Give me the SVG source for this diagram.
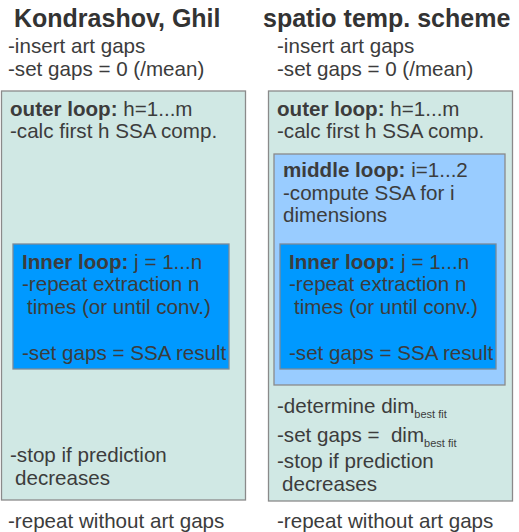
<svg xmlns="http://www.w3.org/2000/svg" width="519" height="532" viewBox="0 0 519 532">
<style>
text{font-family:"Liberation Sans",Arial,sans-serif;font-size:20.6px;fill:#3c3c3c}
.t{font-size:25px;font-weight:bold;fill:#333}
.b{font-weight:bold}
.sub{font-size:11px}
.outer{fill:#d0e8e4;stroke:#8a8a8a;stroke-width:1.3}
.mid{fill:#99ccff;stroke:#8a8a8a;stroke-width:1.3}
.inner{fill:#0099ff;stroke:#7a8a99;stroke-width:1.3}
</style>
<rect width="519" height="532" fill="#ffffff"/>
<g id="left">
<text class="t" x="14" y="27">Kondrashov, Ghil</text>
<text x="8" y="53">-insert art gaps</text>
<text x="8" y="76">-set gaps = 0 (/mean)</text>
<g id="left-outer">
<rect class="outer" x="1.5" y="91" width="244" height="409"/>
<text x="10" y="116"><tspan class="b">outer loop:</tspan> h=1...m</text>
<text x="10" y="138">-calc first h SSA comp.</text>
<text x="10" y="462">-stop if prediction</text>
<text x="15" y="485">decreases</text>
</g>
<g id="left-inner">
<rect class="inner" x="13" y="244" width="216" height="125"/>
<text x="22" y="269"><tspan class="b">Inner loop:</tspan> j = 1...n</text>
<text x="22" y="291">-repeat extraction n</text>
<text x="27" y="314">times (or until conv.)</text>
<text x="22" y="360">-set gaps = SSA result</text>
</g>
<text x="8" y="528">-repeat without art gaps</text>
</g>
<g id="right">
<text class="t" x="263" y="27">spatio temp. scheme</text>
<text x="277" y="53">-insert art gaps</text>
<text x="277" y="76">-set gaps = 0 (/mean)</text>
<g id="right-outer">
<rect class="outer" x="268.5" y="91" width="244" height="410"/>
<text x="277" y="116"><tspan class="b">outer loop:</tspan> h=1...m</text>
<text x="277" y="138">-calc first h SSA comp.</text>
<text x="277" y="413">-determine dim<tspan class="sub" dy="5">best fit</tspan></text>
<text x="277" y="442">-set gaps =&#160; dim<tspan class="sub" dy="5">best fit</tspan></text>
<text x="277" y="468">-stop if prediction</text>
<text x="282" y="491">decreases</text>
</g>
<g id="right-middle">
<rect class="mid" x="274" y="154" width="231" height="231"/>
<text x="283" y="177"><tspan class="b">middle loop:</tspan> i=1...2</text>
<text x="283" y="200">-compute SSA for i</text>
<text x="283" y="222">dimensions</text>
</g>
<g id="right-inner">
<rect class="inner" x="280" y="244" width="216" height="125"/>
<text x="289" y="269"><tspan class="b">Inner loop:</tspan> j = 1...n</text>
<text x="289" y="291">-repeat extraction n</text>
<text x="294" y="314">times (or until conv.)</text>
<text x="289" y="360">-set gaps = SSA result</text>
</g>
<text x="277" y="528">-repeat without art gaps</text>
</g>
<g id="connectors"/>
</svg>
